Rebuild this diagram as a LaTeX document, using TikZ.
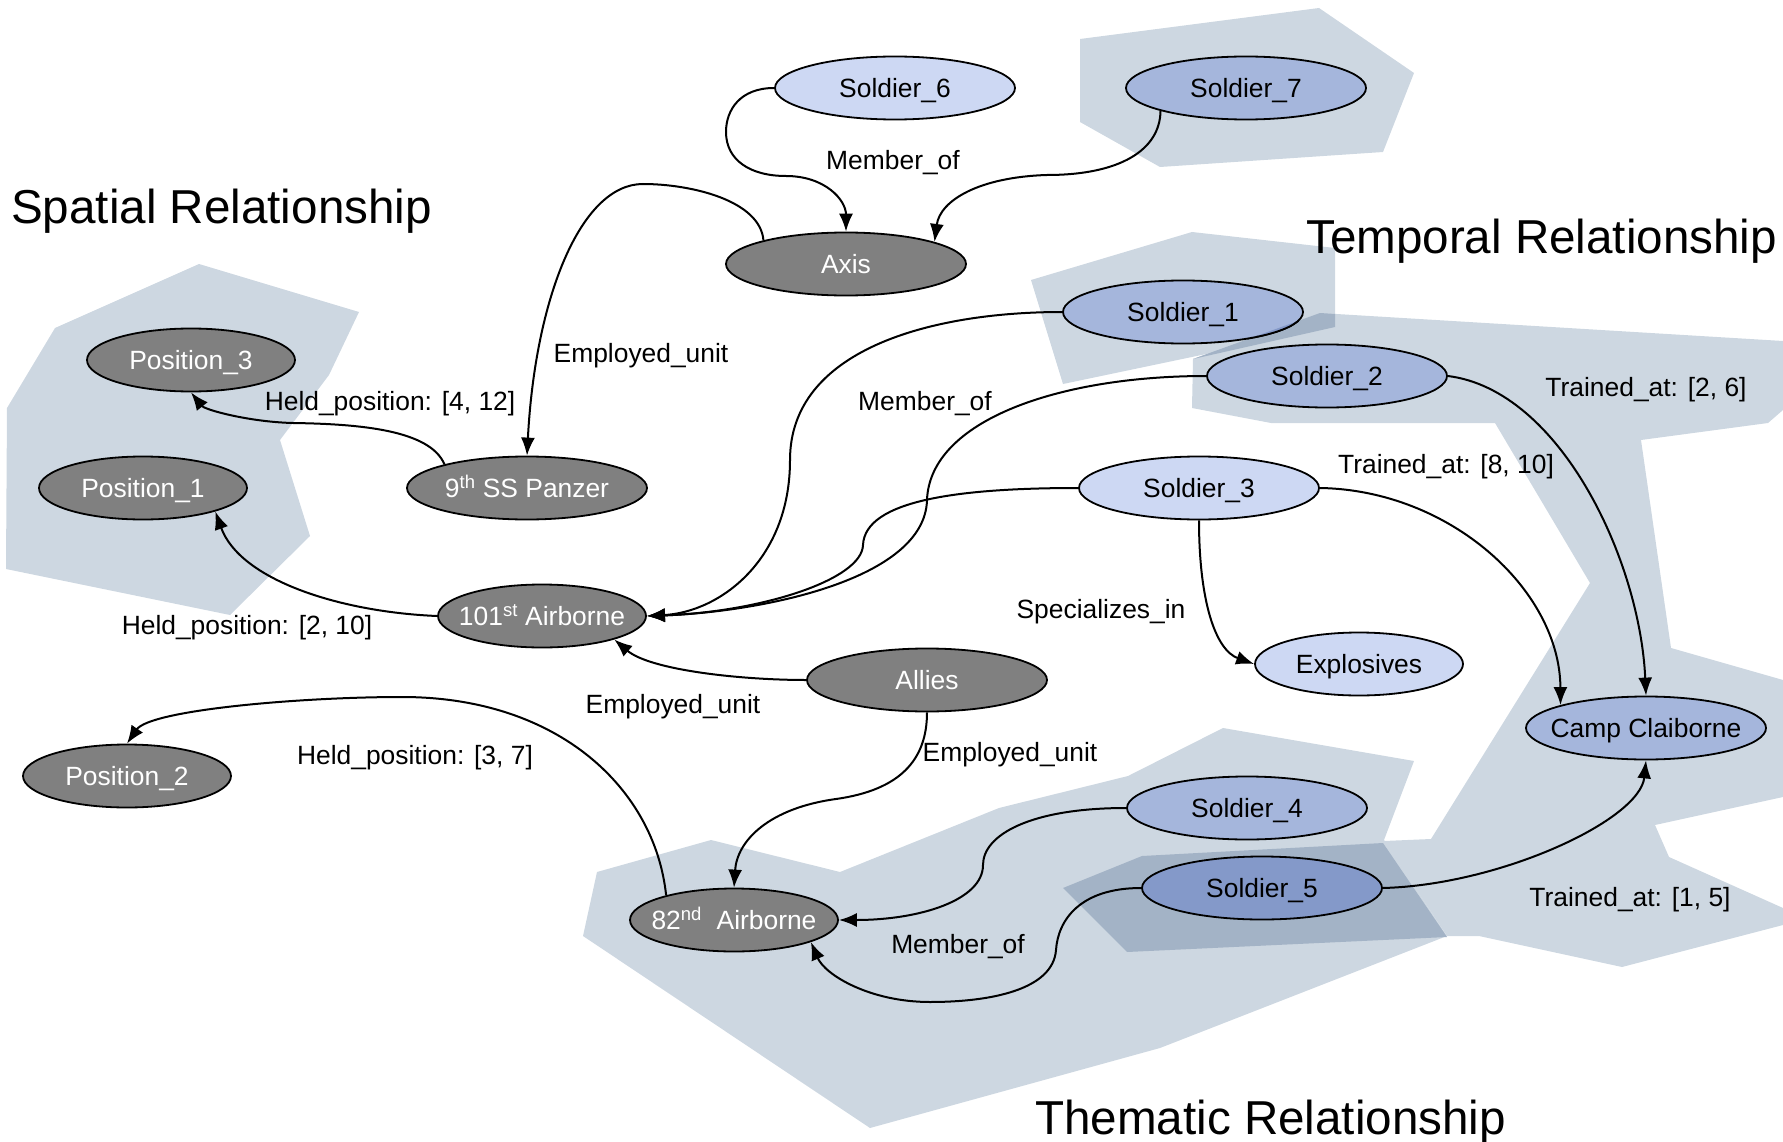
\documentclass[tikz,border=0pt]{standalone}
\usepackage{fontspec}
\setmainfont{Liberation Sans}
\usetikzlibrary{arrows.meta,shapes.geometric}
\definecolor{regcol}{HTML}{CDD7E1}
\definecolor{ovcol}{HTML}{A3B3C6}
\definecolor{greyn}{HTML}{808080}
\definecolor{lightb}{HTML}{CDD8F3}
\definecolor{medb}{HTML}{A5B6DC}
\definecolor{darkb}{HTML}{8499C9}
\newcommand\ctext[1]{\makebox[0pt]{\raisebox{-0.36em}[0pt][0pt]{#1}}}
\begin{document}
\begin{tikzpicture}[x=1pt,y=-1pt,
  nd/.style={ellipse,draw=black,line width=1.8pt,inner sep=0pt,minimum height=63pt,font=\fontsize{26.4}{30}\selectfont},
  wide/.style={minimum width=240pt},
  narrow/.style={minimum width=208pt},
  gn/.style={nd,fill=greyn,text=white},
  ln/.style={nd,fill=lightb},
  mn/.style={nd,fill=medb},
  dn/.style={nd,fill=darkb},
  edge/.style={line width=2pt,-{Latex[length=18pt,width=14pt]}},
  lbl/.style={font=\fontsize{26.4}{30}\selectfont,inner sep=0pt},
  ttl/.style={font=\fontsize{47.6}{52}\selectfont,inner sep=0pt,anchor=base west},
  reg/.style={fill=regcol},
  ov/.style={fill=ovcol}
]
\useasboundingbox (0,0) rectangle (1783,1142);

% shaded regions
\fill[reg] (199,264) -- (359,312) -- (329,375) -- (280,440) -- (310,536) -- (230,615) -- (6,569) -- (7,408) -- (55,328) -- cycle;
\fill[reg] (1080,39) -- (1319,8) -- (1414,73) -- (1383,152) -- (1160,167) -- (1080,122) -- cycle;
\fill[reg] (1031,280) -- (1192,232) -- (1335,248) -- (1335,327) -- (1063,384) -- cycle;
\fill[reg] (597,872) -- (711,840) -- (840,872) -- (999,808) -- (1128,776) -- (1223,728) -- (1414,761) -- (1384,840) -- (1447,936) -- (1160,1048) -- (870,1128) -- (583,936) -- cycle;
\fill[reg] (1193,359) -- (1320,313) -- (1783,341) -- (1783,410) -- (1768,423) -- (1641,440) -- (1671,648) -- (1783,680) -- (1783,797) -- (1655,825) -- (1669,857) -- (1783,908) -- (1783,925) -- (1622,967) -- (1479,936) -- (1447,936) -- (1384,841) -- (1431,839) -- (1590,583) -- (1495,423) -- (1271,423) -- (1192,408) -- cycle;
\fill[ov] (1063,888) -- (1142,856) -- (1383,843) -- (1447,937) -- (1127,952) -- cycle;
\fill[ov] (1193,359) -- (1320,313) -- (1335,314) -- (1335,327) -- cycle;

% titles
\node[ttl] (tsp) at (11,224) {Spatial Relationship};
\node[ttl] (ttm) at (1306,254) {Temporal Relationship};
\node[ttl] (tth) at (1035,1134) {Thematic Relationship};

% nodes
\node[ln,wide] (s6) at (895,88) {\ctext{Soldier\_6}};
\node[mn,wide] (s7) at (1246,88) {\ctext{Soldier\_7}};
\node[gn,wide] (axis) at (846,264) {\ctext{Axis}};
\node[mn,wide] (s1) at (1183,312) {\ctext{Soldier\_1}};
\node[mn,wide] (s2) at (1327,376) {\ctext{Soldier\_2}};
\node[ln,wide] (s3) at (1199,488) {\ctext{Soldier\_3}};
\node[gn,narrow] (pos3) at (191,360) {\ctext{Position\_3}};
\node[gn,narrow] (pos1) at (143,488) {\ctext{Position\_1}};
\node[gn,wide] (p9) at (527,488) {\ctext{9\textsuperscript{th} SS Panzer}};
\node[gn,narrow] (a101) at (542,616) {\ctext{101\textsuperscript{st} Airborne}};
\node[gn,wide] (allies) at (927,680) {\ctext{Allies}};
\node[ln,narrow] (expl) at (1359,664) {\ctext{Explosives}};
\node[mn,wide] (camp) at (1646,728) {\ctext{Camp Claiborne}};
\node[gn,narrow] (pos2) at (127,776) {\ctext{Position\_2}};
\node[mn,wide] (s4) at (1247,808) {\ctext{Soldier\_4}};
\node[dn,wide] (s5) at (1262,888) {\ctext{Soldier\_5}};
\node[gn,narrow] (a82) at (734,920) {\ctext{82\textsuperscript{nd}\ \ Airborne}};

% tint of Soldier_1 where the temporal region lies over it
\begin{scope}
\clip (1193,359) -- (1320,313) -- (1783,341) -- (1783,410) -- (1192,408) -- cycle;
\fill[darkb] (1183,312) ellipse (119 and 31);
\draw[line width=1.8pt] (1183,312) ellipse (120 and 31.5);
\end{scope}

% connectors
\draw[edge] (s6.west) .. controls (740,88) and (726,110) .. (726,132) .. controls (726,160) and (750,176) .. (786,176) .. controls (825,176) and (846,200) .. (axis.north);
\draw[edge] (s7.195) .. controls (1160,150) and (1120,175) .. (1047,175) .. controls (980,177) and (940,200) .. (axis.14);
\draw[edge] (axis.164) .. controls (760,200) and (690,184) .. (643,184) .. controls (580,184) and (535,300) .. (p9.north);
\draw[edge] (p9.164) .. controls (430,430) and (360,424) .. (293,423) .. controls (250,422) and (205,410) .. (pos3.south);
\draw[edge] (a101.west) .. controls (340,612) and (240,580) .. (pos1.-18);
\draw[edge] (s1.west) .. controls (930,312) and (790,350) .. (790,460) .. controls (790,560) and (720,612) .. (a101.east);
\draw[edge] (s2.west) .. controls (1060,376) and (930,420) .. (927,500) .. controls (925,580) and (760,612) .. (a101.east);
\draw[edge] (s3.west) .. controls (960,488) and (865,500) .. (863,545) .. controls (862,580) and (760,612) .. (a101.east);
\draw[edge] (allies.west) .. controls (740,680) and (650,670) .. (a101.-18);
\draw[edge] (allies.south) .. controls (927,760) and (900,790) .. (836,799) .. controls (770,808) and (737,840) .. (a82.north);
\draw[edge] (a82.160) .. controls (655,790) and (560,697) .. (402,697) .. controls (300,697) and (150,710) .. (pos2.north);
\draw[edge] (s4.west) .. controls (1030,808) and (983,835) .. (983,865) .. controls (983,900) and (920,920) .. (a82.east);
\draw[edge] (s5.west) .. controls (1080,888) and (1058,920) .. (1056,950) .. controls (1053,990) and (990,1002) .. (930,1002) .. controls (870,1002) and (825,975) .. (a82.-16);
\draw[edge] (s3.south) .. controls (1199,600) and (1215,650) .. (expl.west);
\draw[edge] (s3.east) .. controls (1450,490) and (1560,590) .. (camp.165);
\draw[edge] (s2.east) .. controls (1560,390) and (1640,560) .. (camp.north);
\draw[edge] (s5.east) .. controls (1500,885) and (1640,820) .. (camp.south);

% connector labels
\node[lbl] (l1) at (893,163) {Member\_of};
\node[lbl] (l2) at (641,356) {Employed\_unit};
\node[lbl] (l3) at (390,404) {Held\_position: [4, 12]};
\node[lbl] (l4) at (925,404) {Member\_of};
\node[lbl] (l5) at (247,628) {Held\_position: [2, 10]};
\node[lbl] (l6) at (673,707) {Employed\_unit};
\node[lbl] (l7) at (1101,612) {Specializes\_in};
\node[lbl] (l8) at (1446,467) {Trained\_at: [8, 10]};
\node[lbl] (l9) at (1646,390) {Trained\_at: [2, 6]};
\node[lbl] (l10) at (415,758) {Held\_position: [3, 7]};
\node[lbl] (l11) at (1010,755) {Employed\_unit};
\node[lbl] (l12) at (958,947) {Member\_of};
\node[lbl] (l13) at (1630,900) {Trained\_at: [1, 5]};
\end{tikzpicture}
\end{document}
